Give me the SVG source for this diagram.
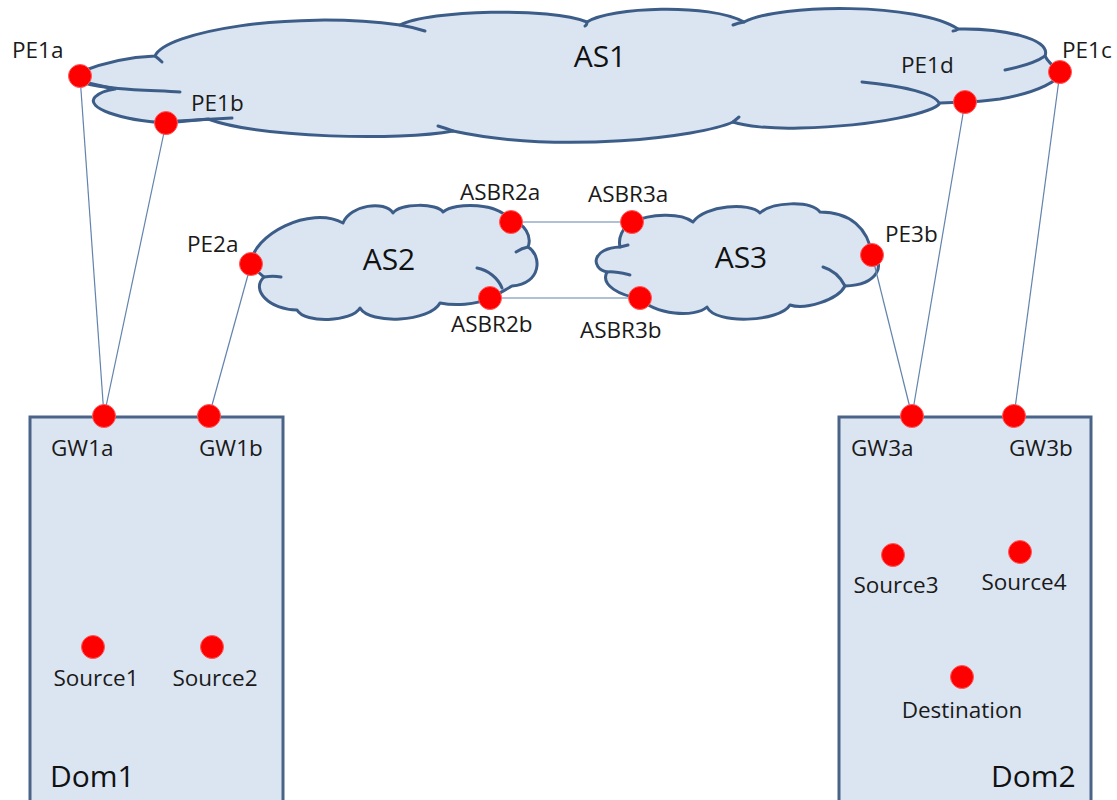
<svg xmlns="http://www.w3.org/2000/svg" width="1117" height="800" viewBox="0 0 1117 800">
  <style>
    .cloud { fill: #dbe5f1; stroke: #3d5d89; stroke-width: 3; stroke-linejoin: round; }
    .fold { fill: none; stroke: #3d5d89; stroke-width: 3; stroke-linecap: round; }
    .domain { fill: #dbe5f1; stroke: #4a6387; stroke-width: 3; }
    .link { stroke: #6283ad; stroke-width: 1.2; fill: none; }
    .dot { fill: #ff0000; stroke: #ff5a5a; stroke-width: 1; }
    .lbl { font-family: "Open Sans", "Liberation Sans", sans-serif; font-size: 22.5px; fill: #1a1a1a; }
    .big { font-family: "Open Sans", "Liberation Sans", sans-serif; font-size: 30px; fill: #111; }
  </style>

  <!-- autonomous systems -->
  <g id="AS1">
    <path class="cloud" d="M 80,72 C 105,62 130,57 155,56 C 165,32 290,10 400,25 C 430,10 550,7 587,22 C 610,7 710,3 744,22 C 780,3 920,3 958,29 C 1000,28 1052,38 1045,56 C 1048,62 1055,68 1060,72 C 1060,80 1040,92 1000,99 C 985,101 975,102 965,102 L 940,103 C 935,112 880,126 800,128 C 770,129 745,126 733,122 C 700,137 560,154 453,131 C 400,141 260,138 208,119 L 166,123 C 120,120 85,108 95,97 C 100,92 108,90 115,89 L 84,82 Z"/>
    <path class="fold" d="M 84,83 C 110,90 150,90 180,92"/>
    <path class="fold" d="M 178,121 L 232,118"/>
    <path class="fold" d="M 155,56 Q 159,59 162,62"/>
    <path class="fold" d="M 400,25 Q 412,27 425,31"/>
    <path class="fold" d="M 587,22 Q 587,25 585,26"/>
    <path class="fold" d="M 744,22 Q 738,23 733,25"/>
    <path class="fold" d="M 958,29 Q 956,31 953,31"/>
    <path class="fold" d="M 1045,56 C 1035,63 1020,67 1005,70"/>
    <path class="fold" d="M 862,82 C 905,86 935,94 939,103"/>
    <path class="fold" d="M 733,122 L 739,117"/>
    <path class="fold" d="M 453,131 Q 445,128 438,126"/>
    <text class="big" x="600" y="67" text-anchor="middle">AS1</text>
  </g>

  <g id="AS2">
    <path class="cloud" d="M 251,264 C 252,235 310,205 343,223 C 350,205 385,200 393,213 C 400,203 438,203 443,212 C 455,202 500,202 511,222 C 525,222 532,237 528,247 C 542,255 542,284 512,286 C 503,291 495,296 490,298 C 475,305 455,306 440,303 C 430,322 370,325 360,308 C 352,322 305,324 297,310 C 270,310 250,290 264,277 C 258,272 253,268 251,264 Z"/>
    <path class="fold" d="M 528,247 Q 522,248 516,252"/>
    <path class="fold" d="M 502,288 C 498,278 488,270 477,268"/>
    <path class="fold" d="M 264,277 C 270,276 276,276 281,277"/>
    <text class="big" x="389" y="270" text-anchor="middle">AS2</text>
  </g>

  <g id="AS3">
    <path class="cloud" d="M 632,222 C 650,214 680,212 693,222 C 705,205 750,202 760,213 C 772,202 810,200 820,212 C 850,212 868,228 872,255 C 885,262 880,285 845,286 C 838,300 805,310 790,305 C 780,322 715,325 707,307 C 695,318 655,315 640,298 C 620,296 600,285 607,272 C 590,268 592,248 620,247 C 618,238 622,228 632,222 Z"/>
    <path class="fold" d="M 845,286 C 840,276 833,270 823,267"/>
    <path class="fold" d="M 607,272 C 615,271 622,273 630,275"/>
    <path class="fold" d="M 620,247 L 628,245"/>
    <text class="big" x="741" y="268" text-anchor="middle">AS3</text>
  </g>

  <!-- access domains -->
  <g id="Dom1">
    <rect class="domain" x="30" y="417" width="253" height="400"/>
    <text class="big" x="50" y="787">Dom1</text>
  </g>
  <g id="Dom2">
    <rect class="domain" x="839" y="417" width="252" height="400"/>
    <text class="big" x="991" y="787">Dom2</text>
  </g>

  <!-- links -->
  <g id="links">
    <line class="link" x1="80" y1="76" x2="104" y2="416"/>
    <line class="link" x1="166" y1="123" x2="104" y2="416"/>
    <line class="link" x1="251" y1="264" x2="209" y2="416"/>
    <line class="link" x1="511" y1="222" x2="632" y2="222"/>
    <line class="link" x1="490" y1="298" x2="640" y2="298"/>
    <line class="link" x1="872" y1="255" x2="912" y2="416"/>
    <line class="link" x1="965" y1="102" x2="912" y2="416"/>
    <line class="link" x1="1060" y1="72" x2="1014" y2="416"/>
  </g>

  <!-- routers and hosts -->
  <g id="PE1a"><circle class="dot" cx="80" cy="76" r="11.5"/><text class="lbl" x="12" y="58">PE1a</text></g>
  <g id="PE1b"><circle class="dot" cx="166" cy="123" r="11.5"/><text class="lbl" x="191" y="111">PE1b</text></g>
  <g id="PE1c"><circle class="dot" cx="1060" cy="72" r="11.5"/><text class="lbl" x="1062" y="58">PE1c</text></g>
  <g id="PE1d"><circle class="dot" cx="965" cy="102" r="11.5"/><text class="lbl" x="901" y="73">PE1d</text></g>
  <g id="PE2a"><circle class="dot" cx="251" cy="264" r="11.5"/><text class="lbl" x="187" y="252">PE2a</text></g>
  <g id="ASBR2a"><circle class="dot" cx="511" cy="222" r="11.5"/><text class="lbl" x="460" y="200">ASBR2a</text></g>
  <g id="ASBR2b"><circle class="dot" cx="490" cy="298" r="11.5"/><text class="lbl" x="451" y="332">ASBR2b</text></g>
  <g id="ASBR3a"><circle class="dot" cx="632" cy="222" r="11.5"/><text class="lbl" x="588" y="202">ASBR3a</text></g>
  <g id="ASBR3b"><circle class="dot" cx="640" cy="298" r="11.5"/><text class="lbl" x="580" y="338">ASBR3b</text></g>
  <g id="PE3b"><circle class="dot" cx="872" cy="255" r="11.5"/><text class="lbl" x="885" y="242">PE3b</text></g>
  <g id="GW1a"><circle class="dot" cx="104" cy="416" r="11.5"/><text class="lbl" x="51" y="456">GW1a</text></g>
  <g id="GW1b"><circle class="dot" cx="209" cy="416" r="11.5"/><text class="lbl" x="199" y="456">GW1b</text></g>
  <g id="GW3a"><circle class="dot" cx="912" cy="416" r="11.5"/><text class="lbl" x="851" y="456">GW3a</text></g>
  <g id="GW3b"><circle class="dot" cx="1014" cy="416" r="11.5"/><text class="lbl" x="1009" y="456">GW3b</text></g>
  <g id="Source1"><circle class="dot" cx="93" cy="647" r="11.5"/><text class="lbl" x="96" y="686" text-anchor="middle">Source1</text></g>
  <g id="Source2"><circle class="dot" cx="212" cy="647" r="11.5"/><text class="lbl" x="215" y="686" text-anchor="middle">Source2</text></g>
  <g id="Source3"><circle class="dot" cx="893" cy="555" r="11.5"/><text class="lbl" x="896" y="593" text-anchor="middle">Source3</text></g>
  <g id="Source4"><circle class="dot" cx="1020" cy="552" r="11.5"/><text class="lbl" x="1024" y="590" text-anchor="middle">Source4</text></g>
  <g id="Destination"><circle class="dot" cx="962" cy="677" r="11.5"/><text class="lbl" x="962" y="718" text-anchor="middle">Destination</text></g>
</svg>
